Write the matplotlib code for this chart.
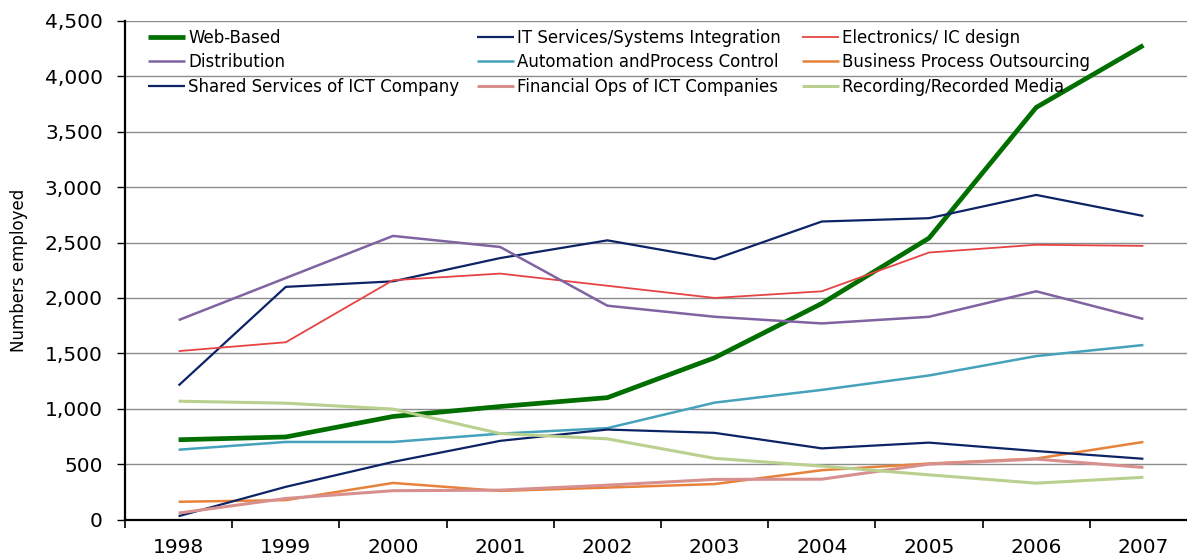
import matplotlib
matplotlib.use("Agg")
import matplotlib.pyplot as plt
from matplotlib.legend import Legend
from matplotlib.ticker import FuncFormatter, FixedLocator

years = ["1998", "1999", "2000", "2001", "2002", "2003", "2004", "2005", "2006", "2007"]

web_based = [720, 745, 930, 1020, 1100, 1460, 1950, 2540, 3720, 4280]
it_services = [1210, 2100, 2150, 2360, 2520, 2350, 2690, 2720, 2930, 2740]
electronics = [1520, 1600, 2160, 2220, 2110, 2000, 2060, 2410, 2480, 2470]
distribution = [1800, 2180, 2560, 2460, 1930, 1830, 1770, 1830, 2060, 1810]
automation = [630, 700, 700, 775, 825, 1055, 1170, 1300, 1475, 1575]
bpo = [160, 175, 330, 258, 288, 320, 445, 505, 550, 700]
shared = [30, 295, 520, 710, 812, 782, 642, 694, 618, 548]
finops = [58, 190, 260, 265, 310, 362, 364, 500, 545, 470]
recording = [1068, 1050, 997, 776, 728, 552, 482, 403, 328, 381]

series = [
    ("Web-Based", web_based, "#006f00", 3.4),
    ("IT Services/Systems Integration", it_services, "#0c2466", 1.6),
    ("Electronics/ IC design", electronics, "#e64444", 1.3),
    ("Distribution", distribution, "#8064a2", 1.8),
    ("Automation andProcess Control", automation, "#45a2bb", 1.8),
    ("Business Process Outsourcing", bpo, "#e6823a", 1.8),
    ("Shared Services of ICT Company", shared, "#0c2466", 1.6),
    ("Financial Ops of ICT Companies", finops, "#d8908f", 2.2),
    ("Recording/Recorded Media", recording, "#b9d08f", 2.2),
]

W, H = 1187, 557
fig = plt.figure(figsize=(W / 100, H / 100), dpi=100)
left, right, bottom, top = 125, 1197, 519.5, 21
ax = fig.add_axes([left / W, 1 - bottom / H, (right - left) / W, (bottom - top) / H])

lines = {}
for name, vals, col, lw in series:
    ln, = ax.plot(years, vals, color=col, linewidth=lw, label=name,
                  solid_capstyle="butt", solid_joinstyle="miter")
    lines[name] = ln

ax.set_xlim(-0.5, len(years) - 0.5)
ax.set_ylim(0, 4500)
ax.set_yticks(range(0, 4501, 500))
ax.yaxis.set_major_formatter(FuncFormatter(lambda v, p: f"{int(v):,}"))
ax.yaxis.grid(True, color="#8c8c8c", linewidth=1.0)
ax.set_axisbelow(True)

ax.xaxis.set_major_locator(FixedLocator(range(len(years))))
ax.set_xticklabels(years)
ax.xaxis.set_minor_locator(FixedLocator([i - 0.5 for i in range(len(years) + 1)]))
ax.tick_params(axis="x", which="major", length=0, pad=13, labelsize=14.5)
ax.tick_params(axis="x", which="minor", length=6, width=1.2, direction="out")
ax.tick_params(axis="y", which="major", length=6, width=1.0, direction="out",
               pad=10, labelsize=14.5)

for s in ["top", "right"]:
    ax.spines[s].set_visible(False)
ax.spines["left"].set_linewidth(1.6)
ax.spines["bottom"].set_linewidth(1.6)

ax.set_ylabel("Numbers employed", fontsize=12, labelpad=12)

cols = [
    (["Web-Based", "Distribution", "Shared Services of ICT Company"], 148),
    (["IT Services/Systems Integration", "Automation andProcess Control",
      "Financial Ops of ICT Companies"], 477),
    (["Electronics/ IC design", "Business Process Outsourcing",
      "Recording/Recorded Media"], 802),
]
for names, xpx in cols:
    leg = Legend(ax, [lines[n] for n in names], names, loc="upper left",
                 bbox_to_anchor=(xpx / W, 1 - 29 / H),
                 bbox_transform=fig.transFigure, frameon=False,
                 fontsize=12, borderpad=0, borderaxespad=0,
                 handlelength=2.2, handletextpad=0.2, labelspacing=0.38)
    ax.add_artist(leg)

fig.savefig("out.png", dpi=100)
